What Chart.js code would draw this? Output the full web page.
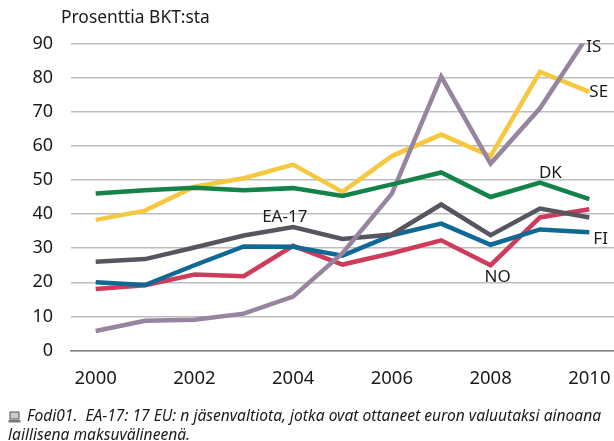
<!DOCTYPE html>
<html>
<head>
<meta charset="utf-8">
<script src="https://cdn.jsdelivr.net/npm/chart.js@4"></script>
<style>
  html, body { margin: 0; padding: 0; background: #fff; }
  #wrap { position: relative; width: 614px; height: 441px; overflow: hidden; font-family: "Noto Sans", sans-serif; color: #1a1a1a; }
  #unit { position: absolute; left: 61px; top: 4px; font-size: 17.4px; }
  #note { position: absolute; left: 8px; top: 406px; width: 606px; font-size: 15.6px; font-style: italic; line-height: 19px; white-space: nowrap; }
  #note svg { vertical-align: -2px; margin-right: 6px; }
  canvas { position: absolute; left: 0; top: 0; }
</style>
</head>
<body>
<div id="wrap">
  <canvas id="chart" width="614" height="441"></canvas>
  <div id="unit">Prosenttia BKT:sta</div>
  <div id="note"><svg width="13" height="12" viewBox="0 0 13 12"><rect x="2" y="1" width="9" height="7" fill="#ccc" stroke="#555"/><rect x="0.5" y="9" width="12" height="2.5" fill="#777"/></svg>Fodi01.&nbsp; EA-17: 17 EU: n jäsenvaltiota, jotka ovat ottaneet euron valuutaksi ainoana<br>laillisena maksuvälineenä.</div>
</div>
<script>
'use strict';

var years = ['2000', '2001', '2002', '2003', '2004', '2005', '2006', '2007', '2008', '2009', '2010'];
var yTicks = [0, 10, 20, 30, 40, 50, 60, 70, 80, 90];

var dk = [46, 47, 47.7, 47, 47.6, 45.3, 48.7, 52.2, 45, 49.2, 44.4];
var se = [38.3, 41, 48, 50.5, 54.5, 46.5, 57, 63.3, 57, 81.7, 75.8];
var is = [5.7, 8.7, 9, 10.8, 15.8, 28.5, 46, 80.3, 54.8, 71, 93];
var ea = [26, 26.8, 30.2, 33.7, 36.2, 32.7, 34, 42.8, 33.8, 41.6, 39];
var fi = [20, 19.2, 25, 30.5, 30.4, 27.8, 33.8, 37.2, 31, 35.5, 34.7];
var no = [18, 19.1, 22.3, 21.8, 30.7, 25.2, 28.5, 32.3, 25, 39, 41.4];

// series labels sit next to the lines: [text, year, value, pixel shift]
var seriesLabels = [
  ['IS', '2010', 88.8, -3],
  ['SE', '2010', 75.8, 0],
  ['DK', '2009', 52, -1],
  ['EA-17', '2004', 39, -31],
  ['FI', '2010', 32.5, 4],
  ['NO', '2008', 21.6, -6]
];

function line(label, data, color) {
  return {
    label: label,
    data: data,
    borderColor: color,
    borderWidth: 4.5,
    pointRadius: 0,
    tension: 0,
    clip: 0,
    borderJoinStyle: 'miter',
    borderCapStyle: 'butt'
  };
}

// draws the labels through the chart's own scales
var labelPlugin = {
  id: 'seriesLabels',
  afterDatasetsDraw: function(chart) {
    var ctx = chart.ctx;
    ctx.save();
    ctx.font = '17px "Noto Sans", sans-serif';
    ctx.fillStyle = '#1a1a1a';
    ctx.textBaseline = 'middle';
    seriesLabels.forEach(function(l) {
      var x = chart.scales.x.getPixelForValue(years.indexOf(l[1]));
      var y = chart.scales.y.getPixelForValue(l[2]);
      ctx.fillText(l[0], x + l[3], y);
    });
    ctx.restore();
  }
};

new Chart(document.getElementById('chart'), {
  type: 'line',
  data: {
    labels: years,
    datasets: [
      line('DK', dk, '#14834a'),
      line('IS', is, '#97849f'),
      line('SE', se, '#f6c83f'),
      line('EA-17', ea, '#55565f'),
      line('FI', fi, '#0e6a94'),
      line('NO', no, '#cf3b5b')
    ]
  },
  plugins: [labelPlugin],
  options: {
    responsive: false,
    animation: false,
    layout: { padding: { top: 43.5, right: 0, bottom: 0, left: 0 } },
    plugins: { legend: { display: false }, tooltip: { enabled: false } },
    scales: {
      x: {
        offset: true,
        afterFit: function(scale) { scale.height = 90.5; scale.paddingRight = 0; scale.paddingLeft = 0; },
        grid: { display: false },
        border: { color: '#808080', width: 1.5 },
        ticks: {
          autoSkip: false,
          maxRotation: 0,
          padding: 9,
          color: '#1a1a1a',
          font: { family: '"Noto Sans", sans-serif', size: 18.5 },
          callback: function(v, i) { return i % 2 === 0 ? years[i] : ''; }
        }
      },
      y: {
        min: 0,
        max: 90,
        afterFit: function(scale) { scale.width = 71; },
        afterBuildTicks: function(scale) { scale.ticks = yTicks.map(function(v) { return { value: v }; }); },
        grid: { color: '#bdbdbd', lineWidth: 1.5, drawTicks: false },
        border: { display: false },
        ticks: {
          padding: 18,
          color: '#1a1a1a',
          font: { family: '"Noto Sans", sans-serif', size: 18 }
        }
      }
    }
  }
});
</script>
</body>
</html>
